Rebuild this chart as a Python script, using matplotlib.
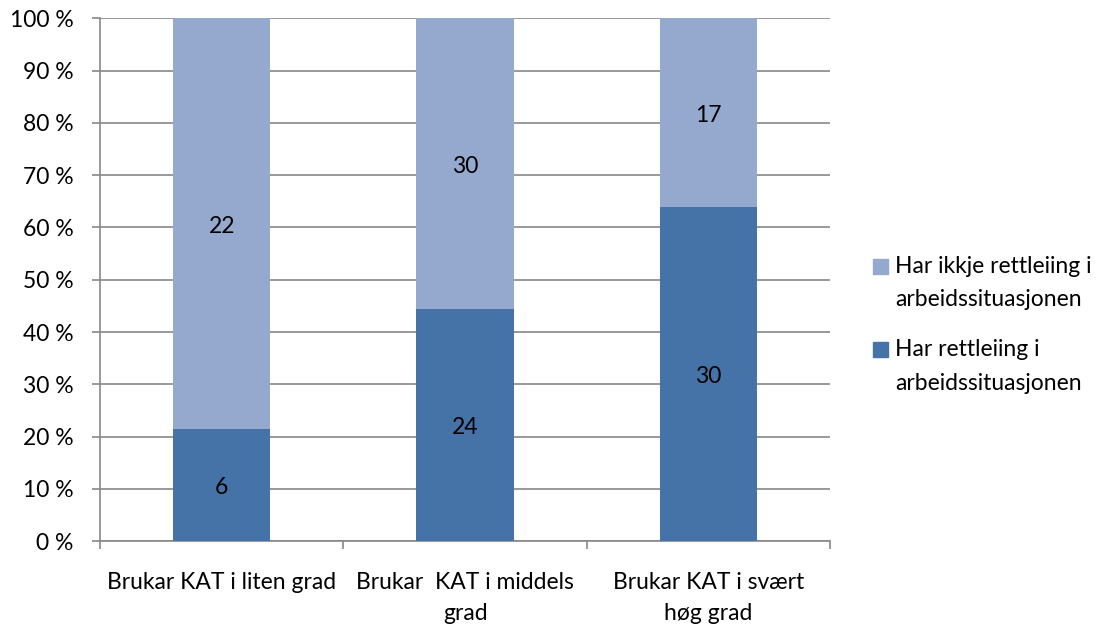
import matplotlib
matplotlib.use('Agg')
from matplotlib import pyplot as plt
from matplotlib.patches import Rectangle
import numpy as np

# data
categories = ["Brukar KAT i liten grad", "Brukar  KAT i middels\ngrad", "Brukar KAT i svært\nhøg grad"]
har = [6, 24, 30]
har_ikkje = [22, 30, 17]
label_har = ["Har rettleiing i", "arbeidssituasjonen"]
label_ikkje = ["Har ikkje rettleiing i", "arbeidssituasjonen"]

plt.rcParams['font.family'] = ['Lato', 'DejaVu Sans']
fontsize = 16.5
c_har = "#4573A7"
c_ikkje = "#95A9CF"
grid_c = "#888888"

har = np.array(har, dtype=float)
har_ikkje = np.array(har_ikkje, dtype=float)
total = har + har_ikkje
p_har = har / total * 100
p_ikkje = har_ikkje / total * 100

fig = plt.figure(figsize=(11.1, 6.3), dpi=100)
ax = fig.add_axes([0.090, 0.141, 0.658, 0.830])

x = np.arange(len(categories))
width = 0.4
ax.bar(x, p_har, width, color=c_har, zorder=3)
ax.bar(x, p_ikkje, width, bottom=p_har, color=c_ikkje, zorder=3)

for i in range(len(x)):
    ax.text(x[i], p_har[i] / 2 - 0.5, '%.0f' % har[i], ha='center', va='center', fontsize=fontsize, zorder=4)
    ax.text(x[i], p_har[i] + p_ikkje[i] / 2 - 0.5, '%.0f' % har_ikkje[i], ha='center', va='center',
            fontsize=fontsize, zorder=4)

ax.set_xlim(-0.5, len(categories) - 0.5)
ax.set_ylim(0, 100)
ax.set_yticks(np.arange(0, 101, 10))
ax.set_yticklabels(['%d %%' % v for v in range(0, 101, 10)], fontsize=fontsize)
ax.yaxis.grid(True, color=grid_c, linewidth=1.2, zorder=0)

# kategorimerke mellom stolpane
ax.set_xticks(np.arange(-0.5, len(categories), 1.0))
ax.set_xticklabels([])
ax.set_xticks(x, minor=True)
ax.set_xticklabels(categories, minor=True, fontsize=fontsize, linespacing=1.6)
ax.tick_params(axis='x', which='minor', length=0, pad=22)
ax.tick_params(axis='x', which='major', length=6, width=1.2, color=grid_c, direction='out')
ax.tick_params(axis='y', length=6, width=1.2, color=grid_c, direction='out', pad=13)

for s in ['top', 'right']:
    ax.spines[s].set_visible(False)
ax.spines['left'].set_color(grid_c)
ax.spines['bottom'].set_color(grid_c)
ax.spines['left'].set_linewidth(1.2)
ax.spines['bottom'].set_linewidth(1.2)

# legende (piksel-posisjonar)
W, H = 1110.0, 630.0
entries = [(c_ikkje, label_ikkje, 266), (c_har, label_har, 349)]
for col, lines, ypx in entries:
    fig.patches.append(Rectangle((873 / W, 1 - (ypx + 8) / H), 15 / W, 15 / H,
                                 transform=fig.transFigure, color=col, figure=fig))
    for k, line in enumerate(lines):
        fig.text(895 / W, 1 - (ypx + 34 * k) / H, line, ha='left', va='center', fontsize=fontsize)

plt.savefig("out.png", dpi=100)
